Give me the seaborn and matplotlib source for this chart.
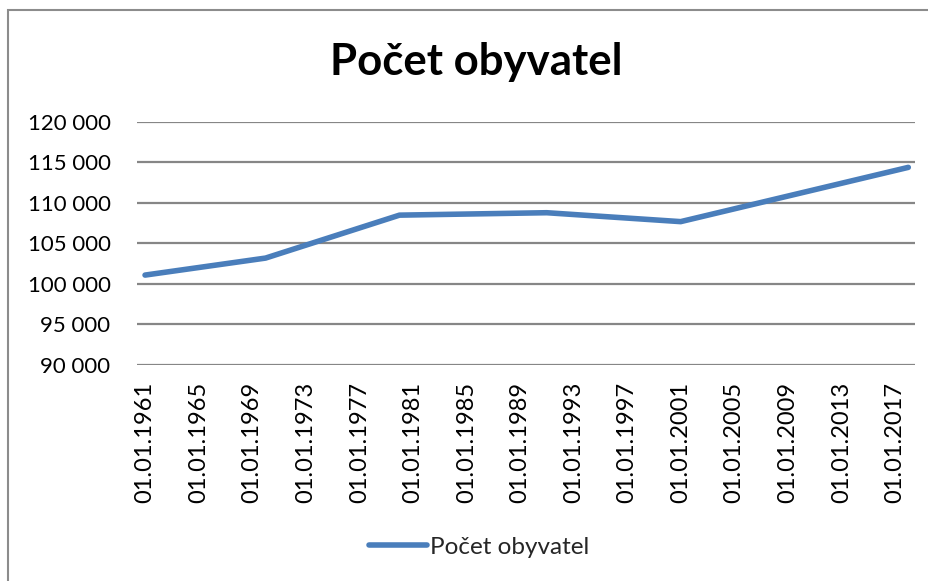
import matplotlib
matplotlib.use("Agg")
import matplotlib.pyplot as plt
import seaborn as sns
import pandas as pd
from matplotlib.patches import Rectangle
from matplotlib.lines import Line2D

# Data
years = [1961, 1970, 1980, 1991, 2001, 2018]
population = [101100, 103200, 108500, 108800, 107700, 114400]
tick_years = list(range(1961, 2018, 4))
tick_labels = [f"01.01.{y}" for y in tick_years]
y_ticks = [90000, 95000, 100000, 105000, 110000, 115000, 120000]
series_name = "Počet obyvatel"

df = pd.DataFrame({"year": years, "value": population, "series": series_name})

sns.set_theme(style="white")
plt.rcParams["font.family"] = ["Lato", "DejaVu Sans"]

W, H = 929, 581
fig = plt.figure(figsize=(W / 100, H / 100), dpi=100)
ax = fig.add_axes([137 / W, 1 - 365 / H, (915 - 137) / W, (365 - 122) / H])

sns.lineplot(data=df, x="year", y="value", hue="series", palette=["#4A7EBB"],
             linewidth=4.0, ax=ax, legend=False, solid_capstyle="round",
             solid_joinstyle="round")

ax.set_xlim(1960.4, 2018.5)
ax.set_ylim(90000, 120000)
ax.set_yticks(y_ticks)
ax.set_yticklabels([f"{v:,}".replace(",", " ") for v in y_ticks], fontsize=16, color="black")
ax.set_xticks(tick_years)
ax.set_xticklabels(tick_labels, rotation=90, fontsize=17, color="black")
ax.tick_params(axis="x", length=0, pad=12)
ax.tick_params(axis="y", length=0, pad=19)
ax.set_xlabel("")
ax.set_ylabel("")
ax.yaxis.grid(True, color="#868686", linewidth=1.6)
ax.xaxis.grid(False)
for s in ax.spines.values():
    s.set_visible(False)

fig.text(476 / W, 1 - 62 / H, series_name, ha="center", va="center",
         fontsize=31.5, fontweight="bold", color="black")

# legend
handle = Line2D([], [], color="#4A7EBB", linewidth=4.0, solid_capstyle="round")
fig.legend([handle], [series_name], loc="center", bbox_to_anchor=(479 / W, 1 - 547 / H),
           frameon=False, fontsize=17.5, handlelength=2.4, handletextpad=0.1)

# outer frame
fig.patches.append(Rectangle((8 / W, -0.1), 1.2, 1 - 10 / H + 0.1, transform=fig.transFigure,
                             fill=False, edgecolor="#8c8c8c", linewidth=1.5))

fig.savefig("out.png", dpi=100)
